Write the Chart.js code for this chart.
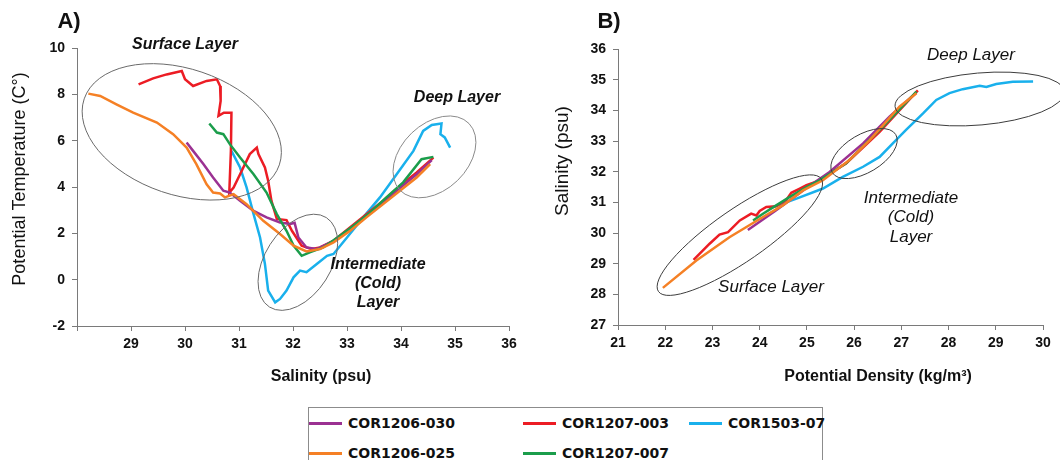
<!DOCTYPE html>
<html>
<head>
<meta charset="utf-8">
<title>T-S diagrams</title>
<script src="https://cdn.jsdelivr.net/npm/chart.js@4.4.1/dist/chart.umd.min.js"></script>
<style>
  body { margin: 0; background: #fff; width: 1060px; height: 460px; overflow: hidden; position: relative; }
  .panel { position: absolute; top: 0; }
  #panelA { left: 0; }
  #panelB { left: 530px; }
  #legend { position: absolute; left: 308px; top: 407px; width: 513px; height: 70px; border: 1px solid #8c8c8c; border-bottom: none; }
  .item { position: absolute; display: flex; align-items: center; font: bold 14px "DejaVu Sans", sans-serif; color: #111; white-space: nowrap; }
  .swatch { width: 33px; height: 3px; margin-right: 6px; }
</style>
</head>
<body>
<canvas id="panelA" class="panel" width="530" height="400"></canvas>
<canvas id="panelB" class="panel" width="530" height="400"></canvas>
<div id="legend"></div>
<script>
// series names + colours (legend order)
const seriesNames = ['COR1206-030', 'COR1207-003', 'COR1503-07', 'COR1206-025', 'COR1207-007'];
const seriesColors = ['#9b3192', '#ec1c24', '#19b0ec', '#f58025', '#1b9d4b'];

// A) salinity (psu) vs potential temperature (C)
const salA030 = [30.03, 30.15, 30.34, 30.52, 30.71, 30.83, 31.02, 31.27, 31.51, 31.76, 31.95, 32.03, 32.10, 32.25, 32.44, 32.75, 33.06, 33.36, 33.67, 33.98, 34.29, 34.57];
const tempA030 = [5.92, 5.56, 4.99, 4.41, 3.84, 3.76, 3.41, 2.97, 2.69, 2.47, 2.40, 2.45, 1.82, 1.39, 1.32, 1.68, 2.18, 2.76, 3.33, 3.95, 4.55, 5.16];

const salA003 = [29.14, 29.41, 29.66, 29.94, 30.00, 30.15, 30.40, 30.59, 30.65, 30.66, 30.62, 30.72, 30.86, 30.85, 30.82, 30.90, 31.02, 31.20, 31.33, 31.36, 31.48, 31.54, 31.60, 31.70, 31.88, 31.98, 32.16, 32.35, 32.50, 32.75, 33.06, 33.36, 33.67, 33.98, 34.29, 34.60];
const tempA003 = [8.43, 8.69, 8.86, 9.01, 8.65, 8.36, 8.58, 8.65, 8.36, 7.72, 7.07, 7.21, 7.21, 5.56, 3.76, 3.98, 4.55, 5.42, 5.70, 5.42, 4.84, 4.27, 3.41, 2.62, 2.57, 2.11, 1.47, 1.32, 1.39, 1.68, 2.26, 2.83, 3.41, 4.05, 4.63, 5.27];

const salA07 = [30.86, 31.02, 31.14, 31.27, 31.39, 31.48, 31.54, 31.67, 31.76, 31.88, 32.01, 32.13, 32.25, 32.44, 32.63, 32.75, 33.00, 33.30, 33.61, 33.92, 34.23, 34.41, 34.57, 34.75, 34.73, 34.81, 34.91];
const tempA07 = [5.56, 4.84, 3.98, 2.83, 1.82, 0.68, -0.47, -0.98, -0.83, -0.47, 0.10, 0.39, 0.32, 0.68, 1.03, 1.11, 1.82, 2.69, 3.55, 4.55, 5.56, 6.42, 6.68, 6.74, 6.28, 6.14, 5.70];

const salA025 = [28.21, 28.43, 28.73, 29.04, 29.48, 29.78, 30.03, 30.21, 30.40, 30.52, 30.65, 30.74, 30.90, 31.14, 31.45, 31.76, 32.01, 32.25, 32.50, 32.75, 33.06, 33.36, 33.67, 33.98, 34.29, 34.54];
const tempA025 = [8.03, 7.93, 7.57, 7.21, 6.78, 6.28, 5.70, 4.99, 4.12, 3.76, 3.72, 3.55, 3.69, 3.26, 2.54, 1.97, 1.47, 1.22, 1.32, 1.61, 2.11, 2.69, 3.26, 3.84, 4.41, 4.99];

const salA007 = [30.45, 30.59, 30.71, 30.83, 31.02, 31.27, 31.51, 31.70, 31.88, 32.01, 32.16, 32.31, 32.56, 32.81, 33.12, 33.43, 33.73, 34.04, 34.38, 34.60];
const tempA007 = [6.74, 6.35, 6.28, 5.85, 5.27, 4.55, 3.76, 2.83, 2.11, 1.47, 1.03, 1.18, 1.39, 1.80, 2.33, 2.90, 3.55, 4.20, 5.20, 5.30];

// B) potential density (kg/m3) vs salinity (psu)
const densB030 = [23.75, 24.35, 24.92, 25.48, 26.19, 26.75, 27.32];
const salB030 = [30.10, 30.74, 31.39, 31.99, 32.92, 33.79, 34.58];

const densB003 = [22.60, 22.94, 23.15, 23.33, 23.58, 23.82, 23.93, 24.00, 24.14, 24.35, 24.56, 24.67, 24.85, 24.99, 25.20, 25.83, 26.54, 27.35];
const salB003 = [29.12, 29.65, 29.95, 30.03, 30.41, 30.63, 30.57, 30.72, 30.85, 30.87, 31.07, 31.31, 31.45, 31.56, 31.67, 32.27, 33.30, 34.65];

const densB07 = [24.20, 24.49, 24.78, 25.34, 25.76, 26.19, 26.54, 26.82, 27.10, 27.46, 27.74, 28.02, 28.30, 28.66, 28.80, 29.01, 29.36, 29.79];
const salB07 = [30.80, 30.96, 31.12, 31.45, 31.83, 32.16, 32.48, 32.92, 33.36, 33.90, 34.34, 34.56, 34.69, 34.80, 34.76, 34.86, 34.93, 34.94];

const densB025 = [21.95, 22.66, 23.36, 24.07, 24.49, 24.92, 25.34, 25.90, 26.33, 26.68, 26.96, 27.32];
const salB025 = [28.21, 29.10, 29.86, 30.52, 30.90, 31.39, 31.72, 32.38, 33.03, 33.63, 34.12, 34.56];

const densB007 = [23.86, 24.07, 24.35, 24.63, 24.99, 25.27, 25.83, 26.61, 27.32];
const salB007 = [30.41, 30.63, 30.90, 31.17, 31.50, 31.72, 32.27, 33.47, 34.61];

// which order the lines are stacked in (lower = on top)
const drawOrder = [3, 4, 5, 1, 2];

// pair x/y arrays into points
function toPoints(xs, ys) {
  return xs.map((x, i) => ({ x: x, y: ys[i] }));
}

function makeDatasets(pairs) {
  return pairs.map((p, i) => ({
    label: seriesNames[i],
    data: toPoints(p[0], p[1]),
    borderColor: seriesColors[i],
    backgroundColor: seriesColors[i],
    borderWidth: 2.5,
    showLine: true,
    pointRadius: 0,
    tension: 0,
    order: drawOrder[i]
  }));
}

// ellipses (data centre, pixel radii) and free text
const notesPlugin = {
  id: 'notes',
  afterDatasetsDraw(chart, args, opts) {
    const ctx = chart.ctx;
    const xs = chart.scales.x, ys = chart.scales.y;
    ctx.save();
    (opts.rings || []).forEach(r => {
      ctx.beginPath();
      ctx.ellipse(xs.getPixelForValue(r.x), ys.getPixelForValue(r.y), r.rx, r.ry, r.angle * Math.PI / 180, 0, Math.PI * 2);
      ctx.strokeStyle = r.color;
      ctx.lineWidth = 1;
      ctx.stroke();
    });
    (opts.texts || []).forEach(t => {
      ctx.save();
      ctx.translate(t.x, t.y);
      if (t.rotate) ctx.rotate(t.rotate * Math.PI / 180);
      ctx.font = t.font;
      ctx.fillStyle = '#111';
      ctx.textAlign = 'center';
      ctx.textBaseline = 'middle';
      ctx.fillText(t.text, 0, 0);
      ctx.restore();
    });
    ctx.restore();
  }
};

function axisOpts(min, max, step, fitSize, isX, hideFirst) {
  return {
    type: 'linear',
    min: min,
    max: max,
    afterFit: s => { if (isX) s.height = fitSize; else s.width = fitSize; },
    border: { color: '#7a7a7a', width: 1 },
    grid: { drawOnChartArea: false, drawTicks: true, tickLength: 5, color: '#7a7a7a' },
    ticks: {
      stepSize: step,
      padding: isX ? 5 : 7,
      color: '#111',
      font: { family: 'Liberation Sans', size: 14, weight: 'bold' },
      callback: v => (hideFirst && v === min) ? '' : v
    }
  };
}

const boldItal = 'italic bold 16px "Liberation Sans"';
const ital = 'italic 17px "Liberation Sans"';

document.addEventListener('DOMContentLoaded', function() {
  Chart.register(notesPlugin);

  new Chart(document.getElementById('panelA'), {
    type: 'scatter',
    data: {
      datasets: makeDatasets([[salA030, tempA030], [salA003, tempA003], [salA07, tempA07], [salA025, tempA025], [salA007, tempA007]])
    },
    options: {
      responsive: false,
      animation: false,
      layout: { padding: { top: 48, right: 21, left: 0, bottom: 0 } },
      scales: {
        x: axisOpts(28, 36, 1, 74, true, true),
        y: axisOpts(-2, 10, 2, 77, false, false)
      },
      plugins: {
        legend: { display: false },
        tooltip: { enabled: false },
        notes: {
          rings: [
            { x: 29.94, y: 6.38, rx: 103, ry: 63, angle: 18.7, color: '#6a6a6a' },
            { x: 32.09, y: 0.75, rx: 53, ry: 33, angle: -57.5, color: '#6a6a6a' },
            { x: 34.62, y: 5.30, rx: 48, ry: 33, angle: -44, color: '#8a8a8a' }
          ],
          texts: [
            { text: 'A)', x: 69, y: 22, font: 'bold 22px "Liberation Sans"' },
            { text: 'Surface Layer', x: 185, y: 45, font: boldItal },
            { text: 'Deep Layer', x: 457, y: 98, font: boldItal },
            { text: 'Intermediate', x: 378, y: 265, font: boldItal },
            { text: '(Cold)', x: 378, y: 284, font: boldItal },
            { text: 'Layer', x: 378, y: 303, font: boldItal },
            { text: 'Potential Temperature (C°)', x: 20, y: 179, rotate: -90, font: '18px "Liberation Sans"' },
            { text: 'Salinity (psu)', x: 321, y: 377, font: 'bold 16px "Liberation Sans"' }
          ]
        }
      }
    }
  });

  new Chart(document.getElementById('panelB'), {
    type: 'scatter',
    data: {
      datasets: makeDatasets([[densB030, salB030], [densB003, salB003], [densB07, salB07], [densB025, salB025], [densB007, salB007]])
    },
    options: {
      responsive: false,
      animation: false,
      layout: { padding: { top: 49, right: 17, left: 0, bottom: 0 } },
      scales: {
        x: axisOpts(21, 30, 1, 75, true, false),
        y: axisOpts(27, 36, 1, 88, false, false)
      },
      plugins: {
        legend: { display: false },
        tooltip: { enabled: false },
        notes: {
          rings: [
            { x: 23.58, y: 29.93, rx: 99, ry: 26, angle: -34.7, color: '#3c3c3c' },
            { x: 26.21, y: 32.59, rx: 37, ry: 19, angle: -30.9, color: '#3c3c3c' },
            { x: 28.66, y: 34.37, rx: 85, ry: 26, angle: -5, color: '#3c3c3c' }
          ],
          texts: [
            { text: 'B)', x: 79, y: 22, font: 'bold 22px "Liberation Sans"' },
            { text: 'Deep Layer', x: 441, y: 55, font: ital },
            { text: 'Intermediate', x: 381, y: 198, font: ital },
            { text: '(Cold)', x: 381, y: 217, font: ital },
            { text: 'Layer', x: 381, y: 237, font: ital },
            { text: 'Surface Layer', x: 241, y: 287, font: ital },
            { text: 'Salinity (psu)', x: 33, y: 161, rotate: -90, font: '19px "Liberation Sans"' },
            { text: 'Potential Density (kg/m³)', x: 348, y: 377, font: 'bold 16px "Liberation Sans"' }
          ]
        }
      }
    }
  });

  // legend box below both panels
  const legend = document.getElementById('legend');
  const slots = [[0, 7], [214, 7], [380, 7], [0, 37], [214, 37]];
  seriesNames.forEach((name, i) => {
    const item = document.createElement('div');
    item.className = 'item';
    item.style.left = slots[i][0] + 'px';
    item.style.top = slots[i][1] + 'px';
    const sw = document.createElement('span');
    sw.className = 'swatch';
    sw.style.background = seriesColors[i];
    item.appendChild(sw);
    item.appendChild(document.createTextNode(name));
    legend.appendChild(item);
  });
});
</script>
</body>
</html>
